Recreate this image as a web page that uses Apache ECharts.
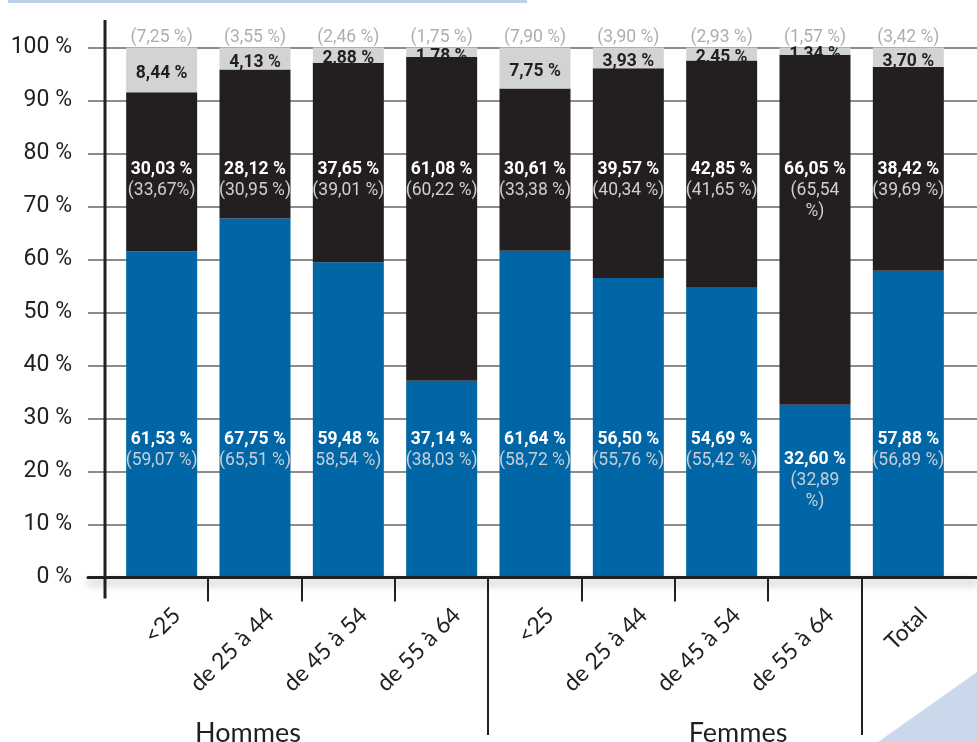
<!DOCTYPE html>
<html><head><meta charset="utf-8">
<script src="https://cdn.jsdelivr.net/npm/echarts@6/dist/echarts.min.js"></script>
<style>html,body{margin:0;padding:0;background:#fff}#c{width:977px;height:742px}</style>
</head><body><div id="c"></div>
<script>
// ---- data ----
const categories = ['<25', 'de 25 à 44', 'de 45 à 54', 'de 55 à 64', '<25', 'de 25 à 44', 'de 45 à 54', 'de 55 à 64', 'Total'];
const groups = ['Hommes', 'Femmes'];
const blue  = [61.53, 67.75, 59.48, 37.14, 61.64, 56.50, 54.69, 32.60, 57.88];
const black = [30.03, 28.12, 37.65, 61.08, 30.61, 39.57, 42.85, 66.05, 38.42];
const gray  = [8.44, 4.13, 2.88, 1.78, 7.75, 3.93, 2.45, 1.34, 3.70];
const bluePrev  = ['(59,07 %)', '(65,51 %)', '58,54 %)', '(38,03 %)', '(58,72 %)', '(55,76 %)', '(55,42 %)', '(32,89\n%)', '(56,89 %)'];
const blackPrev = ['(33,67%)', '(30,95 %)', '(39,01 %)', '(60,22 %)', '(33,38 %)', '(40,34 %)', '(41,65 %)', '(65,54\n%)', '(39,69 %)'];
const grayPrev  = ['(7,25 %)', '(3,55 %)', '(2,46 %)', '(1,75 %)', '(7,90 %)', '(3,90 %)', '(2,93 %)', '(1,57 %)', '(3,42 %)'];
const yMin = 0, yMax = 100, yStep = 10;

// ---- helpers ----
const NARROW = "Roboto,'Liberation Sans',sans-serif";
const HUMAN = "Lato,'Open Sans',sans-serif";
const fmt = v => v.toFixed(2).replace('.', ',') + ' %';
const totals = blue.map((b, i) => +(b + black[i] + gray[i]).toFixed(2));
const BLACK_LEVEL = 79.0;   // top of the label block inside black segments (axis value)
const BLUE_LEVEL = 28.0;    // top of the label block inside blue segments (axis value)

const richIn = (pColor) => ({
  v: { color: '#ffffff', fontFamily: NARROW, fontWeight: 'bold', fontSize: 17.5, lineHeight: 21 },
  p: { color: pColor, fontFamily: NARROW, fontSize: 17.5, lineHeight: 21 }
});

const chart = echarts.init(document.getElementById('c'), null, { renderer: 'canvas' });

const option = {
  animation: false,
  backgroundColor: '#ffffff',
  grid: [
    { left: 115, right: 22, top: 47.5, bottom: 164.5 },
    { left: 88, right: 0, top: 47.5, bottom: 164.5 },
    { left: 130, right: 7, top: 47.5, bottom: 164.5 }
  ],
  xAxis: [
    {
      type: 'category', gridIndex: 0, data: categories,
      axisLine: { show: false }, axisTick: { show: false }, axisLabel: { show: false }
    },
    {
      type: 'value', gridIndex: 1, min: 0, max: 1, z: 5,
      axisLabel: { show: false }, axisTick: { show: false }, splitLine: { show: false },
      axisLine: { show: true, onZero: false, lineStyle: { color: '#231f20', width: 3, shadowColor: 'rgba(0,0,0,0.35)', shadowBlur: 8, shadowOffsetY: 5 } }
    },
    {
      type: 'category', gridIndex: 2, data: categories,
      axisLine: { show: false }, axisTick: { show: false },
      axisLabel: { interval: 0, rotate: 45, margin: 34, fontSize: 23, fontFamily: HUMAN, color: '#231f20' }
    }
  ],
  yAxis: [
    { type: 'value', gridIndex: 0, min: yMin, max: yMax, interval: yStep, show: false },
    {
      type: 'value', gridIndex: 1, min: yMin, max: yMax, interval: yStep,
      axisLine: { show: false }, axisTick: { show: false },
      axisLabel: { formatter: v => v + ' %', fontSize: 23, fontFamily: NARROW, color: '#231f20', margin: 16 },
      splitLine: { lineStyle: { color: '#666666', width: 1.5 } }
    },
    { type: 'value', gridIndex: 2, min: yMin, max: yMax, interval: yStep, show: false }
  ],
  series: [
    {
      type: 'bar', stack: 'a', xAxisIndex: 0, yAxisIndex: 0, barWidth: 71,
      itemStyle: { color: '#0066a6' },
      data: blue.map((b) => {
        const lvl = Math.min(BLUE_LEVEL, b - 8.35);
        return { value: b, label: { position: ['50%', ((b - lvl) / b * 100).toFixed(2) + '%'] } };
      }),
      label: {
        show: true, align: 'center', verticalAlign: 'top',
        formatter: p => '{v|' + fmt(blue[p.dataIndex]) + '}\n{p|' + bluePrev[p.dataIndex].split('\n').join('}\n{p|') + '}',
        rich: richIn('#c9ced6')
      }
    },
    {
      type: 'bar', stack: 'a', xAxisIndex: 0, yAxisIndex: 0, barWidth: 71,
      itemStyle: { color: '#231f20' },
      data: black.map((h, i) => {
        const top = blue[i] + h;
        return { value: h, label: { position: ['50%', ((top - BLACK_LEVEL) / h * 100).toFixed(2) + '%'] } };
      }),
      label: {
        show: true, align: 'center', verticalAlign: 'top',
        formatter: p => '{v|' + fmt(black[p.dataIndex]) + '}\n{p|' + blackPrev[p.dataIndex].split('\n').join('}\n{p|') + '}',
        rich: richIn('#cfcfcf')
      }
    },
    {
      type: 'bar', stack: 'a', xAxisIndex: 0, yAxisIndex: 0, barWidth: 71,
      itemStyle: { color: '#d1d3d4' },
      data: gray,
      label: {
        show: true, position: 'inside', offset: [0, 4],
        formatter: p => fmt(gray[p.dataIndex]),
        color: '#231f20', fontFamily: NARROW, fontWeight: 'bold', fontSize: 17.5
      }
    },
    {
      type: 'scatter', xAxisIndex: 0, yAxisIndex: 0, symbolSize: 0, silent: true,
      data: totals,
      label: {
        show: true, position: 'top', distance: 0.5,
        formatter: p => grayPrev[p.dataIndex],
        color: '#9a9a9a', fontFamily: NARROW, fontSize: 17.5
      }
    }
  ]
};
chart.setOption(option);

// decorations computed from the category axis
const centers = categories.map((c, i) => chart.convertToPixel({ xAxisIndex: 0 }, i));
const baseY = chart.convertToPixel({ yAxisIndex: 0 }, 0);
const graphics = [
  { type: 'rect', shape: { x: 8, y: 0, width: 519, height: 3 }, style: { fill: '#bdd0e9' }, z: 10 },
  { type: 'polygon', shape: { points: [[977, 672], [977, 742], [878, 742]] }, style: { fill: '#cad8ec' }, z: 0 },
  { type: 'line', shape: { x1: 105, y1: 20, x2: 105, y2: baseY + 21 }, style: { stroke: '#231f20', lineWidth: 3 }, z: 10 }
];
for (let i = 0; i < centers.length - 1; i++) {
  const x = Math.round((centers[i] + centers[i + 1]) / 2);
  const long = (i === 3 || i === 7);
  graphics.push({ type: 'line', shape: { x1: x, y1: baseY, x2: x, y2: long ? 735 : baseY + 24 }, style: { stroke: '#231f20', lineWidth: 2 }, z: 10 });
}
graphics.push({ type: 'text', x: 248, y: 733, style: { text: groups[0], fill: '#231f20', font: '27px ' + HUMAN, textAlign: 'center', textVerticalAlign: 'middle' }, z: 10 });
graphics.push({ type: 'text', x: 738, y: 733, style: { text: groups[1], fill: '#231f20', font: '27px ' + HUMAN, textAlign: 'center', textVerticalAlign: 'middle' }, z: 10 });
chart.setOption({ graphic: graphics });
</script>
</body></html>
